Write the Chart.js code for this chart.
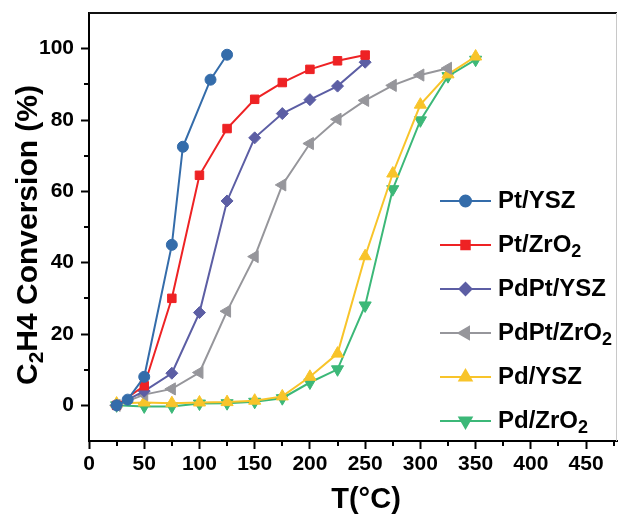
<!DOCTYPE html>
<html>
<head>
<meta charset="utf-8">
<script src="https://cdn.jsdelivr.net/npm/chart.js@4.4.1/dist/chart.umd.min.js"></script>
<style>
  html, body { margin: 0; padding: 0; background: #fff; overflow: hidden; }
  canvas { display: block; }
</style>
</head>
<body>
<canvas id="convChart" width="618" height="519"></canvas>
<script>
// temperatures (°C)
const tempPt = [25, 35, 50, 75, 85, 110, 125];
const tempPtZr = [25, 50, 75, 100, 125, 150, 175, 200, 225, 250];
const tempPdPtZr = [25, 50, 75, 100, 125, 150, 175, 200, 225, 250, 275, 300, 325];
const tempPd = [25, 50, 75, 100, 125, 150, 175, 200, 225, 250, 275, 300, 325, 350];

// C2H4 conversion (%)
const ptYSZ = [0, 1.6, 8, 45, 72.5, 91.3, 98.3];
const ptZrO2 = [0, 5.5, 30, 64.5, 77.6, 85.8, 90.5, 94.2, 96.6, 98.2];
const pdptYSZ = [0, 4, 9, 26, 57.3, 75, 81.8, 85.7, 89.5, 96.2];
const pdptZrO2 = [0, 3, 4.6, 9.2, 26.4, 41.7, 61.8, 73.4, 80.2, 85.5, 89.7, 92.6, 94.5];
const pdYSZ = [0.5, 0.8, 0.6, 0.8, 0.9, 1.3, 2.5, 8, 14.5, 41.8, 65, 84.3, 92.8, 97.8];
const pdZrO2 = [0, -0.3, -0.3, 0.5, 0.6, 1, 2, 6.4, 10.1, 28, 60.6, 79.9, 92.3, 96.9];

const seriesNames = ['Pt/YSZ', 'Pt/ZrO_2', 'PdPt/YSZ', 'PdPt/ZrO_2', 'Pd/YSZ', 'Pd/ZrO_2'];
const xTicks = [0, 50, 100, 150, 200, 250, 300, 350, 400, 450];
const yTicks = [0, 20, 40, 60, 80, 100];
const xMinor = [25, 75, 125, 175, 225, 275, 325, 375, 425, 475];
const yMinor = [10, 30, 50, 70, 90];

const FONT = '"Liberation Sans", Arial, sans-serif';

function pairs(xs, ys) {
    return xs.map((x, i) => ({ x: x, y: ys[i] }));
}

function makeSet(label, xs, ys, color, style, radius, rotation) {
    return {
        label: label,
        data: pairs(xs, ys),
        borderColor: color,
        backgroundColor: color,
        pointBackgroundColor: color,
        pointBorderColor: color,
        borderWidth: 2,
        pointStyle: style,
        pointRadius: radius,
        pointRotation: rotation || 0,
        pointBorderWidth: 1,
        tension: 0
    };
}

// draws text with "_2" style subscripts
function drawRich(ctx, text, x, y, size, subSize, subDrop) {
    const parts = text.split('_');
    let cx = x;
    ctx.textBaseline = 'middle';
    ctx.textAlign = 'left';
    parts.forEach((p, i) => {
        if (i === 0) {
            ctx.font = 'bold ' + size + 'px ' + FONT;
            ctx.fillText(p, cx, y);
            cx += ctx.measureText(p).width;
        } else {
            const sub = p.charAt(0);
            const rest = p.slice(1);
            ctx.font = 'bold ' + subSize + 'px ' + FONT;
            ctx.fillText(sub, cx, y + subDrop);
            cx += ctx.measureText(sub).width;
            if (rest) {
                ctx.font = 'bold ' + size + 'px ' + FONT;
                ctx.fillText(rest, cx, y);
                cx += ctx.measureText(rest).width;
            }
        }
    });
    return cx - x;
}

function richWidth(ctx, text, size, subSize) {
    const parts = text.split('_');
    let w = 0;
    parts.forEach((p, i) => {
        if (i === 0) {
            ctx.font = 'bold ' + size + 'px ' + FONT;
            w += ctx.measureText(p).width;
        } else {
            ctx.font = 'bold ' + subSize + 'px ' + FONT;
            w += ctx.measureText(p.charAt(0)).width;
            ctx.font = 'bold ' + size + 'px ' + FONT;
            w += ctx.measureText(p.slice(1)).width;
        }
    });
    return w;
}

const decorPlugin = {
    id: 'decor',
    afterDraw(chart) {
        const ctx = chart.ctx;
        const area = chart.chartArea;
        const xs = chart.scales.x, ys = chart.scales.y;
        ctx.save();

        // frame top and right
        ctx.strokeStyle = '#111';
        ctx.lineWidth = 2;
        ctx.beginPath();
        ctx.moveTo(area.left, area.top);
        ctx.lineTo(area.right, area.top);
        ctx.stroke();
        ctx.strokeStyle = '#c8c8c8';
        ctx.lineWidth = 1;
        ctx.beginPath();
        ctx.moveTo(area.right - 0.5, area.top);
        ctx.lineTo(area.right - 0.5, area.bottom);
        ctx.stroke();

        // minor ticks
        ctx.strokeStyle = '#000';
        ctx.lineWidth = 2;
        xMinor.forEach(v => {
            const px = Math.round(xs.getPixelForValue(v));
            ctx.beginPath();
            ctx.moveTo(px, area.bottom);
            ctx.lineTo(px, area.bottom + 5);
            ctx.stroke();
        });
        yMinor.forEach(v => {
            const py = Math.round(ys.getPixelForValue(v));
            ctx.beginPath();
            ctx.moveTo(area.left, py);
            ctx.lineTo(area.left - 5, py);
            ctx.stroke();
        });

        // axis titles
        ctx.fillStyle = '#000';
        ctx.font = 'bold 29px ' + FONT;
        ctx.textAlign = 'center';
        ctx.textBaseline = 'middle';
        ctx.fillText('T(°C)', 366, 500);

        ctx.save();
        ctx.translate(29, 235);
        ctx.rotate(-Math.PI / 2);
        const yTitle = 'C_2H4 Conversion (%)';
        const w = richWidth(ctx, yTitle, 30, 21);
        ctx.fillStyle = '#000';
        drawRich(ctx, yTitle, -w / 2, 0, 30, 21, 8);
        ctx.restore();

        // legend
        chart.data.datasets.forEach((ds, i) => {
            const yy = 201 + i * 44;
            ctx.strokeStyle = ds.borderColor;
            ctx.lineWidth = 2;
            ctx.beginPath();
            ctx.moveTo(440, yy);
            ctx.lineTo(491, yy);
            ctx.stroke();
            ctx.fillStyle = ds.pointBackgroundColor;
            Chart.helpers.drawPoint(ctx, {
                pointStyle: ds.pointStyle,
                radius: ds.pointRadius,
                rotation: ds.pointRotation,
                borderWidth: 1
            }, 465.5, yy);
            ctx.fillStyle = '#000';
            drawRich(ctx, ds.label, 498, yy, 24, 18, 7);
        });

        ctx.restore();
    }
};

function noPad(s) {
    s.paddingLeft = 0;
    s.paddingRight = 0;
    s.paddingTop = 0;
    s.paddingBottom = 0;
}

const ctx = document.getElementById('convChart').getContext('2d');
const convChart = new Chart(ctx, {
    type: 'line',
    data: {
        datasets: [
            makeSet(seriesNames[0], tempPt, ptYSZ, 'rgb(52,108,170)', 'circle', 5.5, 0),
            makeSet(seriesNames[1], tempPtZr, ptZrO2, 'rgb(238,34,36)', 'rect', 6, 0),
            makeSet(seriesNames[2], tempPtZr, pdptYSZ, 'rgb(92,94,164)', 'rectRot', 6, 0),
            makeSet(seriesNames[3], tempPdPtZr, pdptZrO2, 'rgb(150,150,155)', 'triangle', 7, -90),
            makeSet(seriesNames[4], tempPd, pdYSZ, 'rgb(248,196,42)', 'triangle', 7, 0),
            makeSet(seriesNames[5], tempPd, pdZrO2, 'rgb(60,184,120)', 'triangle', 7, 180)
        ]
    },
    options: {
        responsive: false,
        animation: false,
        layout: { autoPadding: false, padding: { left: 0, right: 1, top: 13, bottom: 0 } },
        plugins: {
            legend: { display: false },
            tooltip: { enabled: false }
        },
        scales: {
            x: {
                type: 'linear',
                min: 0,
                max: 478,
                afterFit: s => { s.height = 78; noPad(s); },
                afterBuildTicks: s => { s.ticks = xTicks.map(v => ({ value: v })); },
                border: { color: '#000', width: 2 },
                grid: { drawOnChartArea: false, drawTicks: true, tickLength: 8, tickWidth: 2, color: '#000' },
                ticks: {
                    color: '#000',
                    padding: 3,
                    maxRotation: 0,
                    font: { family: FONT, size: 21, weight: 'bold' }
                }
            },
            y: {
                type: 'linear',
                min: -10,
                max: 110,
                afterFit: s => { s.width = 89; noPad(s); },
                afterBuildTicks: s => { s.ticks = yTicks.map(v => ({ value: v })); },
                border: { color: '#000', width: 2 },
                grid: { drawOnChartArea: false, drawTicks: true, tickLength: 8, tickWidth: 2, color: '#000' },
                ticks: {
                    color: '#000',
                    padding: 7,
                    font: { family: FONT, size: 21, weight: 'bold' }
                }
            }
        }
    },
    plugins: [decorPlugin]
});
</script>
</body>
</html>
